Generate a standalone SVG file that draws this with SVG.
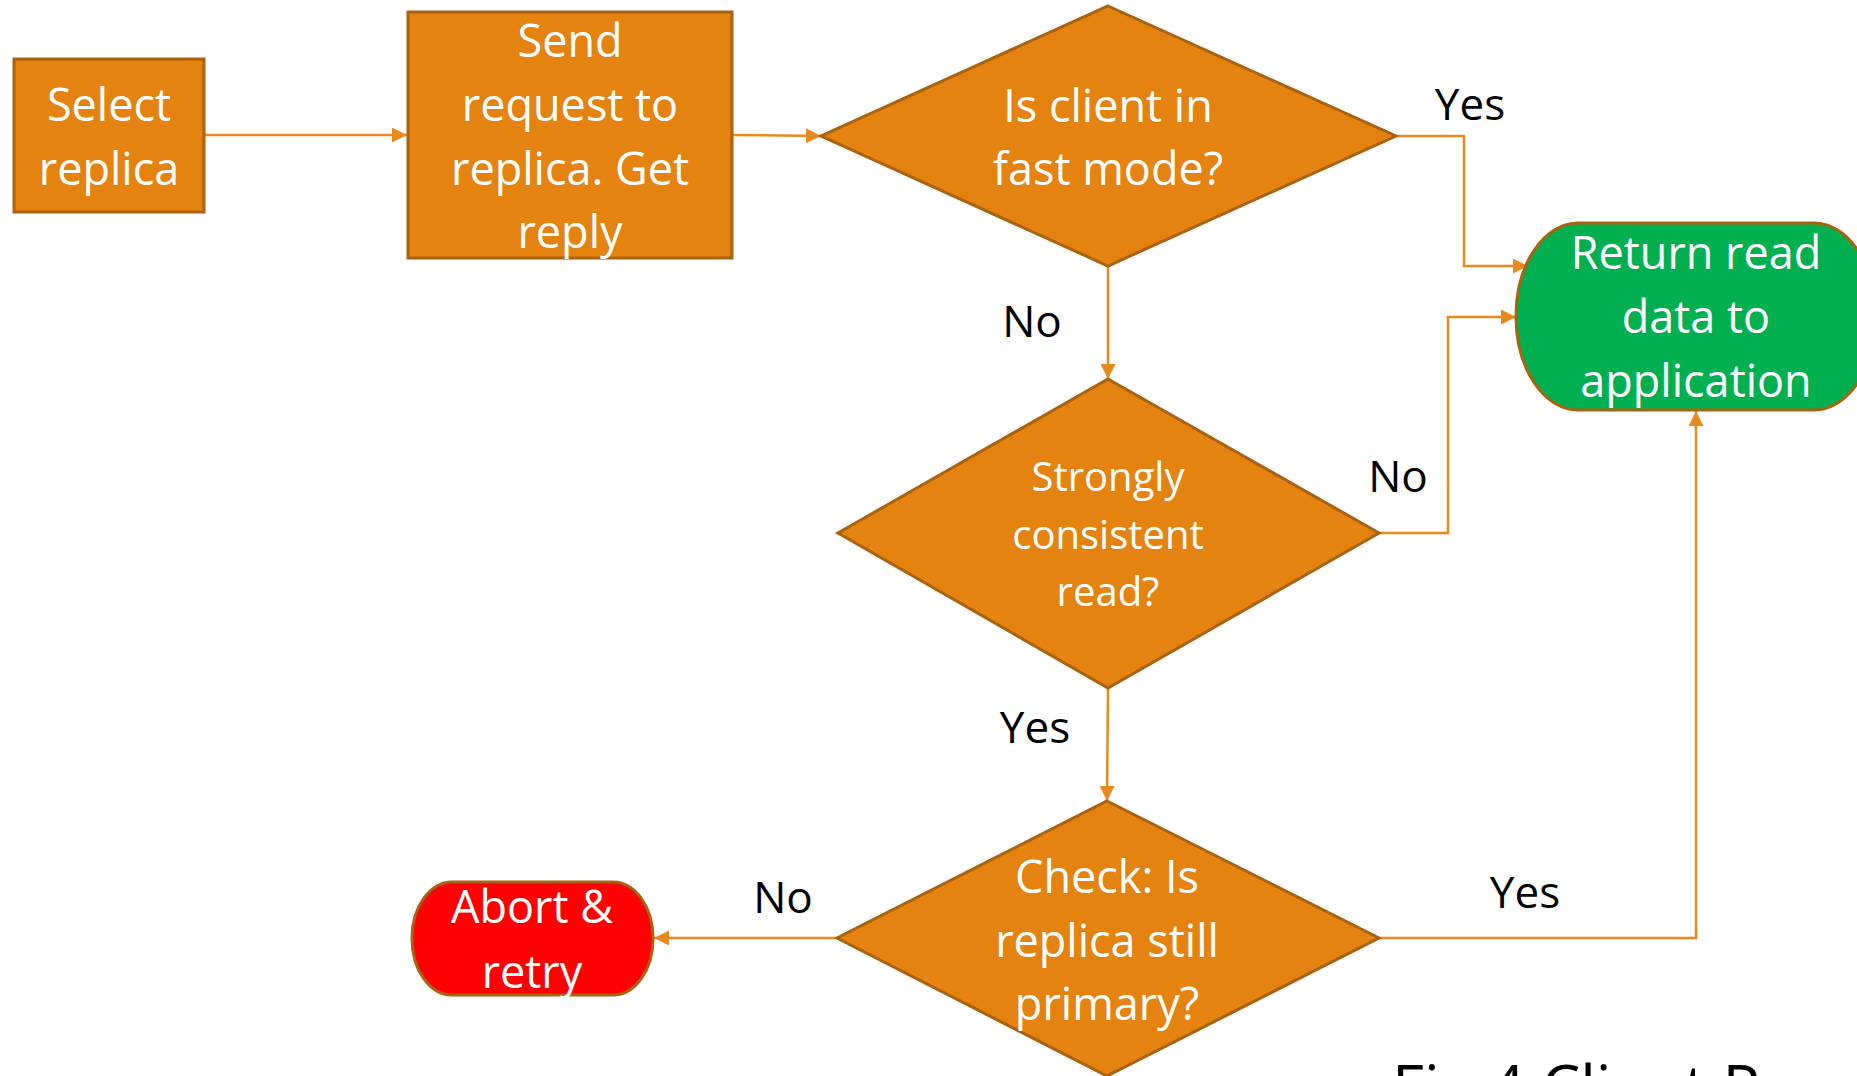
<svg xmlns="http://www.w3.org/2000/svg" width="1857" height="1076" viewBox="0 0 1857 1076">
  <style>
    .proc { fill: #E4830F; stroke: #A9620F; stroke-width: 3; }
    .ok { fill: #00B050; stroke: #A9620F; stroke-width: 3; }
    .fail { fill: #FF0000; stroke: #A9620F; stroke-width: 3; }
    .t { font-family: "Open Sans", "Noto Sans", sans-serif; font-size: 45px; fill: #FFFFFF; text-anchor: middle; }
    .ts { font-size: 40px; }
    .lbl { font-family: "Open Sans", "Noto Sans", sans-serif; font-size: 44px; fill: #000000; text-anchor: middle; }
    .cap { font-family: "Open Sans", "Noto Sans", sans-serif; font-size: 62px; fill: #000000; }
    .edge { fill: none; stroke: #E8891E; stroke-width: 2.5; marker-end: url(#arrow); }
  </style>
  <defs>
    <marker id="arrow" viewBox="0 0 10 10" refX="10" refY="5" markerWidth="6" markerHeight="6" orient="auto" markerUnits="strokeWidth">
      <path d="M0,0 L10,5 L0,10 z" fill="#E8891E"/>
    </marker>
  </defs>

  <rect width="1857" height="1076" fill="#FFFFFF"/>

  <g id="connectors">
    <path class="edge" d="M204,135 H407"/>
    <path class="edge" d="M732,135 L821,136"/>
    <path class="edge" d="M1396,136 H1464 V266 H1528"/>
    <path class="edge" d="M1108,266 V379"/>
    <path class="edge" d="M1379,533 H1448 V317 H1516"/>
    <path class="edge" d="M1108,688 L1107,801"/>
    <path class="edge" d="M1379,938 H1696 V411"/>
    <path class="edge" d="M837,938 H654"/>
  </g>

  <g id="select-replica">
    <rect class="proc" x="14" y="59" width="190" height="153"/>
    <text class="t" x="109" y="121">Select</text>
    <text class="t" x="109" y="185">replica</text>
  </g>

  <g id="send-request">
    <rect class="proc" x="408" y="12" width="324" height="246"/>
    <text class="t" x="570" y="57">Send</text>
    <text class="t" x="570" y="121">request to</text>
    <text class="t" x="570" y="185">replica. Get</text>
    <text class="t" x="570" y="248">reply</text>
  </g>

  <g id="fast-mode">
    <polygon class="proc" points="1108,6 1396,136 1108,266 821,136"/>
    <text class="t" x="1108" y="122">Is client in</text>
    <text class="t" x="1108" y="185">fast mode?</text>
  </g>

  <g id="strong-read">
    <polygon class="proc" points="1108,379 1379,533 1108,688 838,533"/>
    <text class="t ts" x="1108" y="491">Strongly</text>
    <text class="t ts" x="1108" y="549">consistent</text>
    <text class="t ts" x="1108" y="606">read?</text>
  </g>

  <g id="check-primary">
    <polygon class="proc" points="1107,801 1379,938 1107,1076 837,938"/>
    <text class="t" x="1107" y="893">Check: Is</text>
    <text class="t" x="1107" y="957">replica still</text>
    <text class="t" x="1107" y="1020">primary?</text>
  </g>

  <g id="return-data">
    <rect class="ok" x="1516" y="223" width="360" height="187" rx="62" ry="93"/>
    <text class="t" x="1696" y="269">Return read</text>
    <text class="t" x="1696" y="333">data to</text>
    <text class="t" x="1696" y="397">application</text>
  </g>

  <g id="abort-retry">
    <rect class="fail" x="412" y="882" width="241" height="113" rx="40" ry="56"/>
    <text class="t" x="532" y="923">Abort &amp;</text>
    <text class="t" x="532" y="988">retry</text>
  </g>

  <g id="labels">
    <text class="lbl" x="1470" y="120">Yes</text>
    <text class="lbl" x="1032" y="337">No</text>
    <text class="lbl" x="1398" y="492">No</text>
    <text class="lbl" x="1035" y="743">Yes</text>
    <text class="lbl" x="783" y="913">No</text>
    <text class="lbl" x="1525" y="908">Yes</text>
  </g>

  <text class="cap" x="1392" y="1110">Fig.4 Client R</text>
</svg>
